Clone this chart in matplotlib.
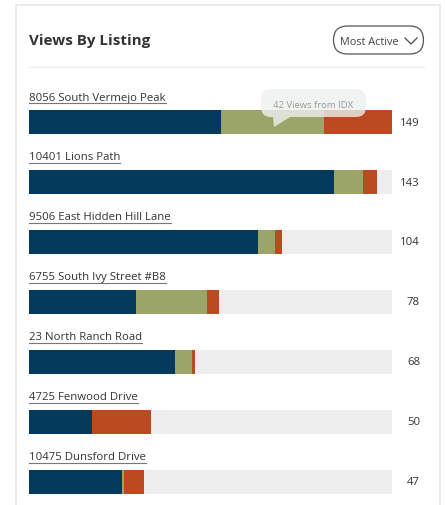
import matplotlib
matplotlib.use("Agg")
import matplotlib.pyplot as plt
from matplotlib.patches import FancyBboxPatch, Polygon, Rectangle
from matplotlib.transforms import offset_copy

# ---- data ----
listings = ["8056 South Vermejo Peak", "10401 Lions Path", "9506 East Hidden Hill Lane",
            "6755 South Ivy Street #B8", "23 North Ranch Road", "4725 Fenwood Drive",
            "10475 Dunsford Drive"]
direct_views = [79, 125, 94, 44, 60, 26, 38]
idx_views = [42, 12, 7, 29, 7, 0, 1]
other_views = [28, 6, 3, 5, 1, 24, 8]
totals = [149, 143, 104, 78, 68, 50, 47]
title = "Views By Listing"
sort_label = "Most Active"
tooltip_text = "42 Views from IDX"

C_NAVY = "#033a5c"
C_GREEN = "#9aa567"
C_RED = "#bb4a20"
C_TRACK = "#ededed"
C_TEXT = "#333333"
FAM = ["Open Sans", "DejaVu Sans"]

W, H = 445, 506
fig = plt.figure(figsize=(W / 100, H / 100), dpi=100)
fig.patch.set_facecolor("white")

# background pixel-space axes (card, header)
bg = fig.add_axes([0, 0, 1, 1], zorder=0)
bg.set_xlim(0, W)
bg.set_ylim(H, 0)
bg.axis("off")
bg.add_patch(Rectangle((16, 6), 424, 520, facecolor="white", edgecolor="#e9e9e9", linewidth=1.2))
bg.text(29, 41, title, fontsize=10.9, fontweight="bold", color=C_TEXT, family=FAM,
        va="center", ha="left")
bg.add_patch(FancyBboxPatch((333.5, 27), 90, 28, boxstyle="round,pad=0,rounding_size=14",
                            facecolor="white", edgecolor="#555555", linewidth=0.9))
bg.text(340, 42, sort_label, fontsize=7.8, color="#444444", family=FAM, va="center", ha="left")
bg.plot([405, 411, 417], [39, 45, 39], color="#444444", linewidth=0.9)
bg.plot([29, 424], [68, 68], color="#eeeeee", linewidth=1.0)

# bars axes
row_top, row_gap = 123, 60
y_top_px, y_bot_px = 93, 506
ax = fig.add_axes([29 / W, 1 - y_bot_px / H, 363 / W, (y_bot_px - y_top_px) / H], zorder=1)
ax.set_xlim(0, max(totals))
ax.set_ylim((y_bot_px - row_top) / row_gap, (y_top_px - row_top) / row_gap)
ax.axis("off")

ys = list(range(len(listings)))
bh = 24 / row_gap
ax.barh(ys, [max(totals)] * len(ys), height=bh, color=C_TRACK, zorder=1)
ax.barh(ys, direct_views, height=bh, color=C_NAVY, zorder=2)
ax.barh(ys, idx_views, left=direct_views, height=bh, color=C_GREEN, zorder=2)
left3 = [a + b for a, b in zip(direct_views, idx_views)]
ax.barh(ys, other_views, left=left3, height=bh, color=C_RED, zorder=2)

val_tr = offset_copy(ax.transData, fig=fig, x=28, y=0, units="dots")
lab_tr = offset_copy(ax.transData, fig=fig, x=0, y=25, units="dots")
label_texts = []
for i, (name, tot) in enumerate(zip(listings, totals)):
    ax.text(max(totals), i, str(tot), transform=val_tr, ha="right", va="center",
            fontsize=8.2, color=C_TEXT, family=FAM, clip_on=False)
    t = ax.text(0, i, name, transform=lab_tr, ha="left", va="center",
                fontsize=8.2, color=C_TEXT, family=FAM, clip_on=False)
    label_texts.append(t)

# overlay pixel-space axes (underlines, tooltip)
ov = fig.add_axes([0, 0, 1, 1], zorder=2)
ov.set_xlim(0, W)
ov.set_ylim(H, 0)
ov.axis("off")
ov.patch.set_alpha(0)

renderer = fig.canvas.get_renderer()
for t in label_texts:
    bb = t.get_window_extent(renderer=renderer)
    x0, x1 = bb.x0, bb.x1
    yb = H - bb.y0 + 0.5
    ov.plot([x0, x1], [yb, yb], color="#777777", linewidth=0.8)

ov.add_patch(FancyBboxPatch((261, 90), 105, 28, boxstyle="round,pad=0,rounding_size=10",
                            facecolor="#eef0f1", edgecolor="none", alpha=0.8))
ov.add_patch(Polygon([(273, 118), (290, 118), (274, 128)], closed=True,
                     facecolor="#eef0f1", edgecolor="none", alpha=0.8))
ov.text(313, 105, tooltip_text, fontsize=6.8, color="#9a9a9a", family=FAM,
        ha="center", va="center")

fig.savefig("out.png", dpi=100)
